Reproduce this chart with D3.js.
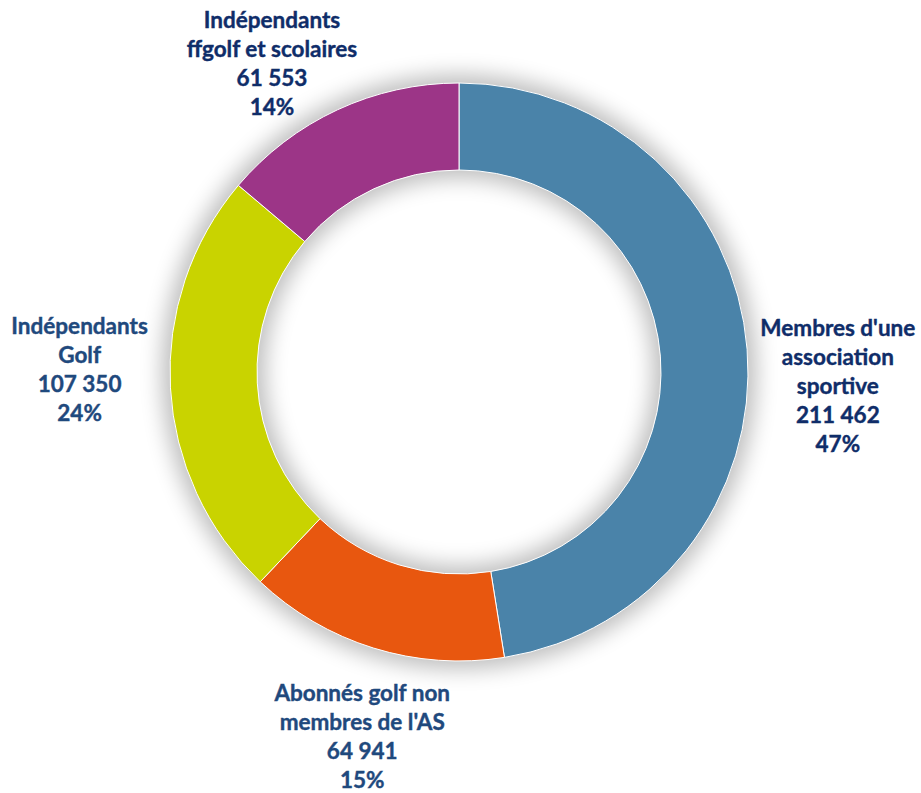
<!DOCTYPE html>
<html>
<head>
<meta charset="utf-8">
<script src="https://cdn.jsdelivr.net/npm/d3@7"></script>
<style>
  body { margin: 0; background: #fff; }
  text { font-family: Lato, "Open Sans", sans-serif; font-weight: bold; }
</style>
</head>
<body>
<svg width="921" height="793"></svg>
<script>
// categories & values, clockwise from 12 o'clock
var categories = [
  ["Membres d'une", "association", "sportive"],
  ["Abonnés golf non", "membres de l'AS"],
  ["Indépendants", "Golf"],
  ["Indépendants", "ffgolf et scolaires"]
];
var values = [211462, 64941, 107350, 61553];
var valueLabels = ["211 462", "64 941", "107 350", "61 553"];
var percentLabels = ["47%", "15%", "24%", "14%"];
var colors = ["#4A83A9", "#E8570F", "#C9D300", "#9C3587"];
var textColors = ["#0F2D69", "#1F497D", "#1F497D", "#0F2D69"];
// small manual nudges so labels sit like the original
var nudges = [[2, 44], [15, 4], [-2, -23], [-28, 35]];

var svg = d3.select("svg"),
    cx = 459, cy = 372,
    rOut = 289, rIn = 202;

var defs = svg.append("defs");
var f = defs.append("filter").attr("id", "glow")
    .attr("x", "-30%").attr("y", "-30%").attr("width", "160%").attr("height", "160%");
f.append("feGaussianBlur").attr("stdDeviation", 11);

var g = svg.append("g").attr("transform", "translate(" + cx + "," + cy + ")");

var pie = d3.pie().sort(null).value(function(d) { return d; });
var arcs = pie(values);

var arc = d3.arc().innerRadius(rIn).outerRadius(rOut);
var labelArc = d3.arc().innerRadius(378).outerRadius(378);

// soft shadow behind the ring
g.append("path")
    .attr("d", d3.arc().innerRadius(rIn - 8).outerRadius(rOut + 8)
      .startAngle(0).endAngle(2 * Math.PI)())
    .attr("fill", "#000")
    .attr("opacity", 0.26)
    .attr("filter", "url(#glow)");

g.selectAll("path.slice")
  .data(arcs)
  .enter().append("path")
    .attr("class", "slice")
    .attr("d", arc)
    .attr("fill", function(d, i) { return colors[i]; })
    .attr("stroke", "#fff")
    .attr("stroke-width", 1);

var lineH = 29;
var labels = g.selectAll("g.lbl")
  .data(arcs)
  .enter().append("g")
    .attr("class", "lbl")
    .attr("transform", function(d, i) {
      var c = labelArc.centroid(d);
      return "translate(" + (c[0] + nudges[i][0]) + "," + (c[1] + nudges[i][1]) + ")";
    });

labels.each(function(d, i) {
  var lines = categories[i].concat([valueLabels[i], percentLabels[i]]);
  var top = -(lines.length - 1) * lineH / 2;
  d3.select(this).selectAll("text")
    .data(lines)
    .enter().append("text")
      .attr("text-anchor", "middle")
      .attr("y", function(t, j) { return top + j * lineH; })
      .attr("dy", "0.35em")
      .attr("fill", textColors[i])
      .attr("stroke", textColors[i])
      .attr("stroke-width", 0.4)
      .style("font-size", "22.5px")
      .text(function(t) { return t; });
});
</script>
</body>
</html>
